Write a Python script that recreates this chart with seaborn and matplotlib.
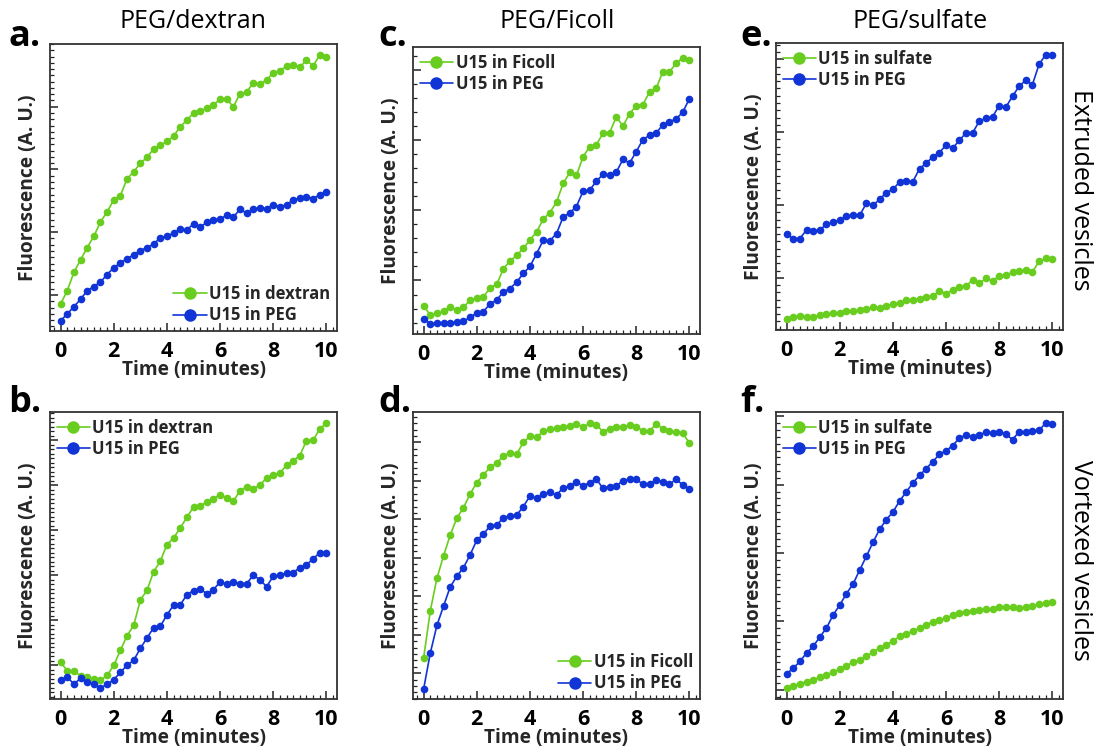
import numpy as np
import pandas as pd
import matplotlib.pyplot as plt
from matplotlib.lines import Line2D
from matplotlib.ticker import AutoMinorLocator, MultipleLocator
import seaborn as sns

sns.set_style("ticks")
plt.rcParams['font.family'] = ['Open Sans', 'DejaVu Sans']

GREEN = "#68cd1e"
BLUE = "#1034d6"

# time points (minutes)
time_min = [0, 0.25, 0.5, 0.75, 1, 1.25, 1.5, 1.75, 2, 2.25, 2.5, 2.75, 3, 3.25,
            3.5, 3.75, 4, 4.25, 4.5, 4.75, 5, 5.25, 5.5, 5.75, 6, 6.25, 6.5,
            6.75, 7, 7.25, 7.5, 7.75, 8, 8.25, 8.5, 8.75, 9, 9.25, 9.5, 9.75, 10]

# a. PEG/dextran, extruded vesicles
a_dextran = [8.1, 12.1, 17.6, 21.3, 25.0, 28.4, 32.7, 35.7, 39.3, 40.6, 45.6, 47.7, 50.3, 52.0,
             54.6, 55.6, 56.8, 58.4, 61.2, 63.2, 65.3, 65.8, 66.8, 67.7, 69.5, 69.5, 67.2,
             71.1, 71.6, 74.4, 73.9, 75.3, 77.3, 77.9, 79.4, 79.6, 79.0, 81.2, 79.4, 82.7, 82.0]
a_peg = [3.1, 5.1, 7.3, 9.5, 12.1, 13.3, 14.7, 16.9, 19.0, 20.4, 21.7, 22.8, 24.1, 25.0,
         26.1, 27.9, 28.5, 29.3, 30.5, 30.3, 32.1, 31.1, 32.6, 33.4, 33.5, 34.7, 34.1,
         36.5, 35.3, 36.5, 37.0, 36.6, 37.9, 37.2, 37.9, 39.2, 39.9, 40.3, 39.7, 40.8, 41.7]

# b. PEG/dextran, vortexed vesicles
b_dextran = [11.0, 8.5, 8.3, 7.0, 6.5, 6.0, 5.6, 7.1, 10.1, 14.6, 19.0, 22.1, 29.7, 32.6,
             38.2, 41.3, 46.3, 48.3, 51.3, 54.5, 57.6, 58.0, 59.0, 60.1, 61.3, 60.3, 59.3,
             62.5, 63.6, 63.0, 64.2, 66.3, 67.1, 67.8, 70.1, 71.5, 73.0, 77.5, 77.6, 81.0, 82.8]
b_peg = [5.8, 6.5, 4.5, 6.2, 5.1, 4.5, 3.3, 4.4, 5.8, 8.0, 10.1, 11.6, 15.2, 18.3,
         21.4, 21.8, 25.2, 28.2, 28.2, 31.3, 32.5, 33.1, 31.5, 32.8, 35.1, 34.5, 35.2,
         34.6, 34.6, 37.1, 35.8, 33.7, 36.8, 37.1, 37.8, 37.9, 39.4, 40.3, 42.0, 43.9, 43.7]

# c. PEG/Ficoll, extruded vesicles
c_ficoll = [8.5, 5.6, 6.2, 6.8, 8.0, 7.2, 8.0, 10.1, 10.7, 11.1, 13.8, 14.8, 19.5, 21.8,
            23.5, 25.6, 28.1, 30.5, 34.3, 36.3, 39.4, 45.0, 48.3, 47.4, 53.0, 56.0, 56.6,
            60.0, 60.2, 64.9, 62.2, 65.8, 68.3, 68.6, 72.3, 73.4, 78.4, 78.3, 81.0, 82.5, 82.0]
c_peg = [4.5, 3.1, 3.2, 3.3, 3.3, 3.6, 3.8, 5.0, 6.3, 6.7, 9.0, 10.2, 12.6, 13.6,
         15.5, 18.1, 20.2, 24.0, 28.0, 27.9, 30.0, 35.0, 36.2, 38.1, 42.7, 43.0, 45.7,
         47.7, 47.5, 48.4, 52.2, 51.1, 54.5, 58.1, 59.4, 60.1, 62.5, 63.4, 64.3, 66.3, 70.3]

# d. PEG/Ficoll, vortexed vesicles
d_ficoll = [12.3, 26.3, 36.1, 42.8, 49.0, 54.1, 57.2, 61.3, 64.7, 67.0, 69.3, 70.5, 72.7, 73.5,
            73.2, 76.7, 78.5, 78.3, 80.0, 80.7, 81.0, 81.4, 81.5, 82.3, 81.3, 82.4, 82.0,
            79.9, 80.8, 81.4, 81.2, 82.0, 81.4, 80.2, 80.0, 82.3, 80.8, 80.0, 79.8, 79.5, 76.5]
d_peg = [3.0, 13.7, 22.0, 27.8, 33.5, 36.7, 39.3, 43.1, 47.5, 49.3, 51.7, 52.0, 54.2, 54.8,
         55.0, 57.5, 60.7, 60.0, 61.3, 61.8, 61.0, 63.1, 63.7, 65.0, 63.7, 64.7, 65.7,
         63.0, 63.5, 63.7, 65.3, 65.8, 65.7, 64.2, 64.2, 65.5, 65.0, 64.2, 65.7, 64.0, 62.7]

# e. PEG/sulfate, extruded vesicles
e_sulfate = [3.3, 4.0, 4.3, 4.0, 3.8, 4.6, 4.7, 5.1, 5.1, 5.7, 5.6, 5.9, 6.3, 6.8,
             6.7, 7.3, 7.7, 8.0, 9.0, 9.1, 9.3, 10.0, 10.3, 11.7, 10.9, 12.1, 12.8,
             13.3, 15.0, 14.0, 15.5, 14.8, 16.3, 16.4, 17.3, 17.8, 18.0, 17.5, 20.6, 21.5, 21.3]
e_peg = [28.8, 27.5, 27.5, 30.1, 29.8, 30.1, 31.8, 32.4, 33.0, 34.3, 34.5, 34.5, 38.1, 37.5,
         39.3, 41.3, 42.3, 44.5, 44.8, 44.6, 48.5, 50.1, 52.1, 53.3, 55.7, 54.7, 57.0,
         59.3, 59.3, 62.8, 63.6, 64.1, 67.5, 67.0, 70.3, 73.3, 75.1, 73.8, 79.9, 82.8, 82.7]

# f. PEG/sulfate, vortexed vesicles
f_sulfate = [3.3, 4.0, 4.6, 5.2, 5.8, 6.5, 7.3, 8.0, 9.0, 10.0, 11.0, 11.8, 12.8, 14.0,
             15.3, 16.3, 17.3, 18.8, 19.6, 20.3, 21.3, 22.3, 23.1, 23.8, 24.2, 25.2, 25.8,
             26.2, 26.5, 26.8, 27.0, 27.1, 27.5, 27.5, 27.5, 27.3, 27.5, 28.0, 28.4, 28.7, 29.1]
f_peg = [7.6, 9.2, 11.3, 13.8, 15.8, 18.6, 21.3, 25.2, 28.2, 31.6, 34.5, 38.7, 42.8, 47.0,
         50.9, 53.8, 56.1, 59.4, 62.1, 64.8, 67.1, 69.1, 71.2, 73.4, 74.5, 76.0, 78.3,
         79.2, 78.6, 79.3, 80.0, 79.8, 80.1, 79.5, 77.8, 80.2, 80.1, 80.5, 80.6, 82.8, 82.5]

column_titles = ["PEG/dextran", "PEG/Ficoll", "PEG/sulfate"]
row_titles = ["Extruded vesicles", "Vortexed vesicles"]

W, H = 1097, 755
fig = plt.figure(figsize=(W / 100, H / 100), dpi=100)


def add_axes(left, top):
    # pixel box -> figure fraction
    return fig.add_axes([left / W, 1 - (top + 287) / H, 287 / W, 287 / H])


def draw_panel(ax, first, second, labels, ytop, ystart, ystep, nminor, loc):
    df = pd.DataFrame({
        "time": time_min + time_min,
        "signal": first + second,
        "sample": [labels[0]] * len(first) + [labels[1]] * len(second),
    })
    sns.lineplot(data=df, x="time", y="signal", hue="sample",
                 palette=[GREEN, BLUE], marker="o", markersize=5.5,
                 markeredgewidth=0, linewidth=1.2, legend=False, ax=ax)
    ax.set_xlim(-0.4, 10.4)
    ax.set_ylim(0, ytop)
    ax.set_xticks([0, 2, 4, 6, 8, 10])
    ax.xaxis.set_minor_locator(MultipleLocator(0.25))
    ax.set_yticks(np.arange(ystart, ytop, ystep))
    ax.yaxis.set_minor_locator(AutoMinorLocator(nminor))
    ax.tick_params(axis="both", which="both", direction="in", color="#222222")
    ax.tick_params(axis="both", which="major", length=6, width=1.1)
    ax.tick_params(axis="both", which="minor", length=3, width=0.9)
    ax.tick_params(axis="y", labelleft=False)
    ax.tick_params(axis="x", labelsize=15.5, pad=7, labelcolor="black")
    for lab in ax.get_xticklabels():
        lab.set_fontweight("bold")
    for sp in ax.spines.values():
        sp.set_visible(True)
        sp.set_linewidth(1.3)
        sp.set_color("#333333")
    ax.set_xlabel("Time (minutes)", fontsize=13.8, fontweight="bold", labelpad=-1)
    ax.set_ylabel("Fluorescence (A. U.)", fontsize=13.8, fontweight="bold", labelpad=5)
    handles = [Line2D([], [], color=GREEN, marker="o", markersize=9, lw=1.2, markeredgewidth=0),
               Line2D([], [], color=BLUE, marker="o", markersize=9, lw=1.2, markeredgewidth=0)]
    ax.legend(handles, labels, loc=loc, frameon=False,
              prop={"weight": "bold", "size": 12}, handlelength=2.0,
              handletextpad=0.15, labelspacing=0.2, borderaxespad=0.1, borderpad=0.3)


ax_a = add_axes(50, 44)
draw_panel(ax_a, a_dextran, a_peg, ["U15 in dextran", "U15 in PEG"],
           86, 10.8, 18.8, 10, "lower right")
ax_b = add_axes(50, 412)
draw_panel(ax_b, b_dextran, b_peg, ["U15 in dextran", "U15 in PEG"],
           86.1, 10.1, 13.5, 10, "upper left")
ax_c = add_axes(413, 47)
draw_panel(ax_c, c_ficoll, c_peg, ["U15 in Ficoll", "U15 in PEG"],
           85.8, 16.0, 21.0, 5, "upper left")
ax_d = add_axes(413, 412)
draw_panel(ax_d, d_ficoll, d_peg, ["U15 in Ficoll", "U15 in PEG"],
           85.8, 7.7, 11.5, 6, "lower right")
ax_e = add_axes(776, 43)
draw_panel(ax_e, e_sulfate, e_peg, ["U15 in sulfate", "U15 in PEG"],
           86.3, 15.7, 21.9, 10, "upper left")
ax_f = add_axes(776, 412)
draw_panel(ax_f, f_sulfate, f_peg, ["U15 in sulfate", "U15 in PEG"],
           86.1, 2.8, 20.5, 10, "upper left")

# column titles
for x, t in zip([193, 557, 920], column_titles):
    fig.text(x / W, 1 - 22 / H, t, ha="center", va="center", fontsize=18, color="black")

# row titles
for y, t in zip([190, 560], row_titles):
    fig.text(1080 / W, 1 - y / H, t, ha="center", va="center", fontsize=18,
             rotation=-90, color="black")

# panel letters
for x, y, t in [(8, 46, "a."), (378, 46, "c."), (740, 46, "e."),
                (8, 412, "b."), (378, 412, "d."), (740, 412, "f.")]:
    fig.text(x / W, 1 - y / H, t, ha="left", va="baseline", fontsize=26,
             fontweight="bold", color="black")

fig.savefig("out.png", dpi=100)
